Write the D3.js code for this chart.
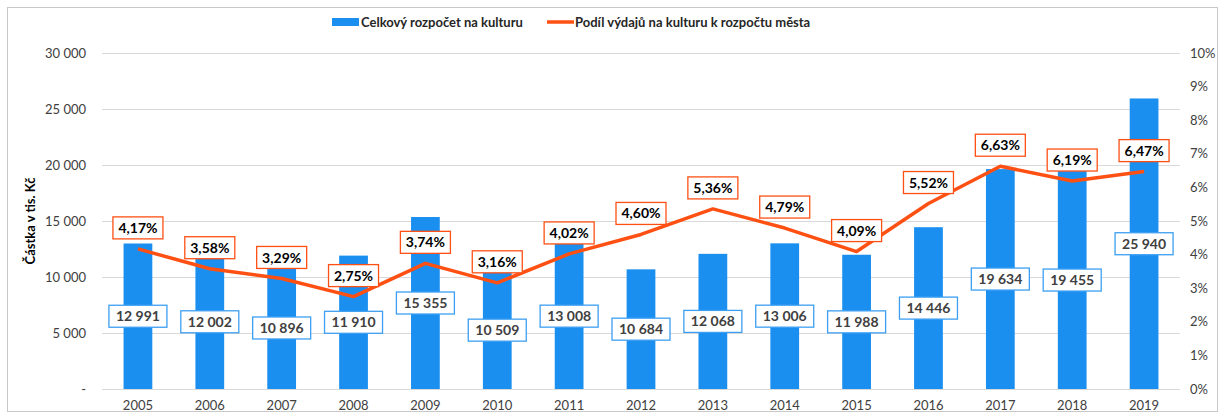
<!DOCTYPE html>
<html>
<head>
  <meta charset="utf-8">
  <title>Rozpočet na kulturu</title>
  <script src="https://cdn.jsdelivr.net/npm/d3@7"></script>
  <style>
    body { margin: 0; background: #fff; }
    text { font-family: Lato, "Open Sans", sans-serif; }
  </style>
</head>
<body>
<script>
  var years = ["2005","2006","2007","2008","2009","2010","2011","2012","2013","2014","2015","2016","2017","2018","2019"];
  var budget = [12991, 12002, 10896, 11910, 15355, 10509, 13008, 10684, 12068, 13006, 11988, 14446, 19634, 19455, 25940];
  var share = [4.17, 3.58, 3.29, 2.75, 3.74, 3.16, 4.02, 4.60, 5.36, 4.79, 4.09, 5.52, 6.63, 6.19, 6.47];
  var leftTicks = [0, 5000, 10000, 15000, 20000, 25000, 30000];
  var rightTicks = [0, 1, 2, 3, 4, 5, 6, 7, 8, 9, 10];

  var width = 1227, height = 419;
  var plotL = 102, plotR = 1180, plotT = 53, plotB = 389;
  var blue = "#1a8ff0", orange = "#ff5014";

  var svg = d3.select("body").append("svg")
    .attr("width", width)
    .attr("height", height);

  svg.append("rect")
    .attr("x", 7.5).attr("y", 7.5)
    .attr("width", 1210).attr("height", 404)
    .attr("fill", "#fff").attr("stroke", "#c8c8c8");

  var x = d3.scaleBand().domain(years).range([plotL, plotR]).paddingInner(0.6).paddingOuter(0.3);
  var y = d3.scaleLinear().domain([0, 30000]).range([plotB, plotT]);
  var y2 = d3.scaleLinear().domain([0, 10]).range([plotB, plotT]);

  // gridlines
  svg.append("g").selectAll("line").data(leftTicks).enter().append("line")
    .attr("x1", plotL).attr("x2", plotR)
    .attr("y1", function(d) { return y(d) + 0.5; })
    .attr("y2", function(d) { return y(d) + 0.5; })
    .attr("stroke", "#d9d9d9").attr("stroke-width", 1.2);

  // left axis
  var fmt = function(d) { return d === 0 ? "-" : d3.format(",")(d).replace(/,/g, "\u00a0"); };
  var gl = svg.append("g")
    .attr("transform", "translate(" + plotL + ",0)")
    .call(d3.axisLeft(y).tickValues(leftTicks).tickFormat(fmt).tickSize(0).tickPadding(16));
  gl.select(".domain").remove();
  gl.selectAll("text").attr("font-size", 13).attr("fill", "#404040").style("font-family", "Lato, sans-serif");

  // right axis
  var gr = svg.append("g")
    .attr("transform", "translate(" + plotR + ",0)")
    .call(d3.axisRight(y2).tickValues(rightTicks).tickFormat(function(d) { return d + "%"; }).tickSize(0).tickPadding(10));
  gr.select(".domain").remove();
  gr.selectAll("text").attr("font-size", 13).attr("fill", "#404040").style("font-family", "Lato, sans-serif");

  // x axis
  var gx = svg.append("g")
    .attr("transform", "translate(0," + plotB + ")")
    .call(d3.axisBottom(x).tickSize(0).tickPadding(12));
  gx.select(".domain").remove();
  gx.selectAll("text").attr("font-size", 13).attr("fill", "#404040").style("font-family", "Lato, sans-serif");

  // y title
  svg.append("text")
    .attr("transform", "translate(35,221) rotate(-90)")
    .attr("text-anchor", "middle")
    .attr("font-size", 13).attr("font-weight", "bold").attr("fill", "#000")
    .text("Částka v tis. Kč");

  // bars
  svg.append("g").selectAll("rect").data(budget).enter().append("rect")
    .attr("x", function(d, i) { return x(years[i]); })
    .attr("y", function(d) { return y(d); })
    .attr("width", x.bandwidth())
    .attr("height", function(d) { return plotB - y(d); })
    .attr("fill", blue);

  // line
  var line = d3.line()
    .x(function(d, i) { return x(years[i]) + x.bandwidth() / 2; })
    .y(function(d) { return y2(d); });
  svg.append("path").datum(share)
    .attr("d", line)
    .attr("fill", "none").attr("stroke", orange).attr("stroke-width", 3.5)
    .attr("stroke-linejoin", "round");

  // bar labels
  var bl = svg.append("g").selectAll("g").data(budget).enter().append("g")
    .attr("transform", function(d, i) {
      return "translate(" + (x(years[i]) + x.bandwidth() / 2) + "," + ((y(d) + plotB) / 2) + ")";
    });
  bl.append("rect")
    .attr("x", -29).attr("y", -11).attr("width", 58).attr("height", 22)
    .attr("fill", "#fff").attr("stroke", "#3d9ff2").attr("stroke-width", 1.3);
  bl.append("text")
    .attr("text-anchor", "middle").attr("dy", "0.36em")
    .attr("font-size", 14).attr("font-weight", "bold").attr("fill", "#404040")
    .text(function(d) { return fmt(d); });

  // percent labels
  var pl = svg.append("g").selectAll("g").data(share).enter().append("g")
    .attr("transform", function(d, i) {
      return "translate(" + (x(years[i]) + x.bandwidth() / 2) + "," + (y2(d) - 21) + ")";
    });
  pl.append("rect")
    .attr("x", -25).attr("y", -11).attr("width", 50).attr("height", 22)
    .attr("fill", "#fff").attr("stroke", orange).attr("stroke-width", 1.3);
  pl.append("text")
    .attr("text-anchor", "middle").attr("dy", "0.36em")
    .attr("font-size", 14).attr("font-weight", "bold").attr("fill", "#000")
    .text(function(d) { return d.toFixed(2).replace(".", ",") + "%"; });

  // legend
  var lg = svg.append("g").attr("font-size", 13).attr("font-weight", "bold").attr("fill", "#262626");
  lg.append("rect").attr("x", 332).attr("y", 18).attr("width", 27).attr("height", 8).attr("fill", blue);
  lg.append("text").attr("x", 361).attr("y", 27).text("Celkový rozpočet na kulturu");
  lg.append("line").attr("x1", 547).attr("x2", 574).attr("y1", 22).attr("y2", 22)
    .attr("stroke", orange).attr("stroke-width", 3.5);
  lg.append("text").attr("x", 575).attr("y", 27).text("Podíl výdajů na kulturu k rozpočtu města");
</script>
</body>
</html>
